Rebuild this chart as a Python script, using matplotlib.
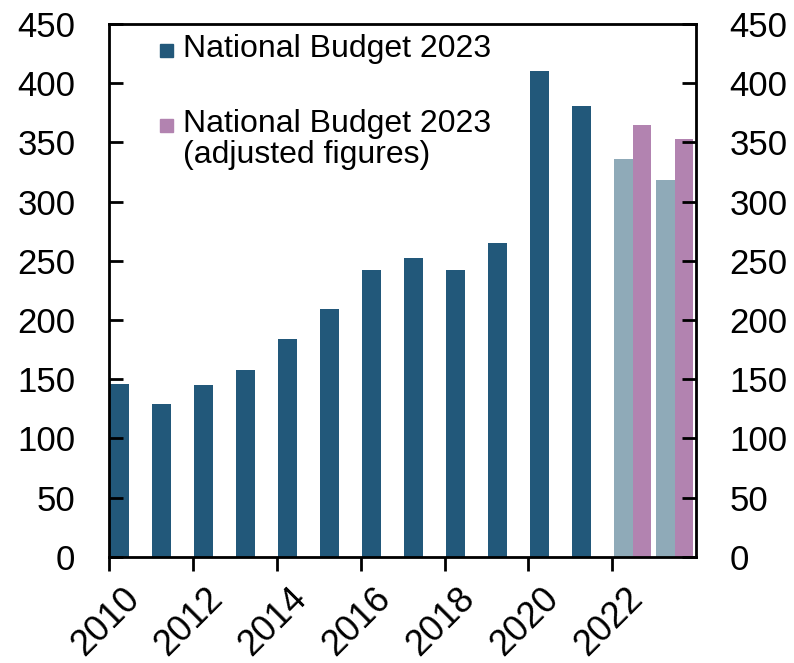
import numpy as np
import matplotlib.pyplot as plt
import matplotlib.transforms as mtransforms
from matplotlib.patches import Rectangle

plt.rcParams['font.family'] = ['Liberation Sans', 'DejaVu Sans']

years = list(range(2010, 2024))
budget = [146, 129, 145, 158, 184, 209, 242, 252, 242, 265, 410, 381, 336, 318]
adjusted = [np.nan] * 12 + [365, 353]
bar_colors = ["#22587a"] * 12 + ["#8faab8"] * 2
legend_labels = ["National Budget 2023", "National Budget 2023\n(adjusted figures)"]
legend_colors = ["#22587a", "#b283b0"]

fig = plt.figure(figsize=(7.94, 6.63), dpi=100)
ax = fig.add_axes([0.137, 0.160, 0.740, 0.804])

x = np.arange(len(years))
w = 0.45
ax.bar(x + 0.03, budget, width=w, align="edge", color=bar_colors)
ax.bar(x + 0.03 + w, adjusted, width=w, align="edge", color="#b283b0")

ax.set_xlim(0, len(years))
ax.set_ylim(0, 450)
ax.set_yticks(range(0, 451, 50))
ax.set_xticks(x[::2])
ax.set_xticklabels([str(y) for y in years[::2]], rotation=45, ha="right",
                   va="center", rotation_mode="anchor")
ax.tick_params(axis="x", direction="out", length=10, width=2, labelsize=26, pad=16)
ax.tick_params(axis="y", direction="in", length=10, width=2, labelsize=25, pad=24)
for s in ax.spines.values():
    s.set_linewidth(2)
shift = mtransforms.ScaledTranslation(0.25, 0, fig.dpi_scale_trans)
for lab in ax.get_xticklabels():
    lab.set_transform(lab.get_transform() + shift)

ax2 = ax.twinx()
ax2.set_ylim(0, 450)
ax2.set_yticks(range(0, 451, 50))
ax2.tick_params(axis="y", direction="in", length=10, width=2, labelsize=25, pad=24)

# legend drawn by hand so the swatch lines up with the first line of text
W, H = 794, 663
ys = [50, 125]
for lab, col, yy in zip(legend_labels, legend_colors, ys):
    fig.patches.append(Rectangle((160 / W, 1 - (yy + 7) / H), 13 / W, 13 / H,
                                 transform=fig.transFigure, color=col))
    fig.text(183 / W, 1 - (yy - 16) / H, lab, fontsize=23, va="top", ha="left",
             linespacing=1.05)

fig.savefig("out.png", dpi=100)
